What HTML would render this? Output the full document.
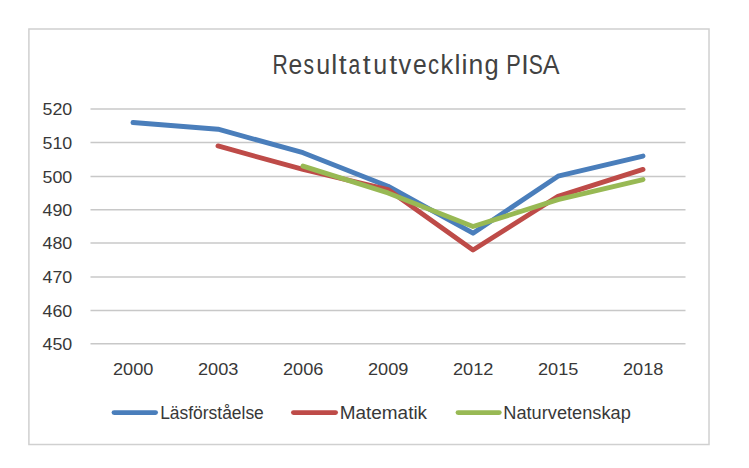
<!DOCTYPE html>
<html><head><meta charset="utf-8"><style>
html,body{margin:0;padding:0;background:#fff;overflow:hidden;}
svg{display:block;}
text{font-family:"Liberation Sans",sans-serif;}
</style></head><body>
<svg width="749" height="468" viewBox="0 0 749 468">
<rect x="0" y="0" width="749" height="468" fill="#fff"/>
<rect x="28.9" y="29" width="680.1" height="415.5" fill="#fff" stroke="#d0d0d0" stroke-width="1.5"/>
<g font-size="27" fill="#424242">
<text x="272.58" y="74" textLength="15.23" lengthAdjust="spacingAndGlyphs">R</text><text x="288.60" y="74" textLength="13.72" lengthAdjust="spacingAndGlyphs">e</text><text x="303.51" y="74" textLength="10.53" lengthAdjust="spacingAndGlyphs">s</text><text x="316.23" y="74" textLength="13.96" lengthAdjust="spacingAndGlyphs">u</text><text x="331.35" y="74" textLength="6.00" lengthAdjust="spacingAndGlyphs">l</text><text x="338.66" y="74" textLength="7.88" lengthAdjust="spacingAndGlyphs">t</text><text x="348.42" y="74" textLength="11.71" lengthAdjust="spacingAndGlyphs">a</text><text x="362.71" y="74" textLength="7.88" lengthAdjust="spacingAndGlyphs">t</text><text x="373.23" y="74" textLength="13.96" lengthAdjust="spacingAndGlyphs">u</text><text x="389.31" y="74" textLength="7.88" lengthAdjust="spacingAndGlyphs">t</text><text x="398.51" y="74" textLength="12.69" lengthAdjust="spacingAndGlyphs">v</text><text x="412.90" y="74" textLength="13.72" lengthAdjust="spacingAndGlyphs">e</text><text x="428.00" y="74" textLength="11.08" lengthAdjust="spacingAndGlyphs">c</text><text x="440.51" y="74" textLength="12.69" lengthAdjust="spacingAndGlyphs">k</text><text x="454.55" y="74" textLength="6.00" lengthAdjust="spacingAndGlyphs">l</text><text x="461.55" y="74" textLength="6.00" lengthAdjust="spacingAndGlyphs">i</text><text x="468.43" y="74" textLength="14.75" lengthAdjust="spacingAndGlyphs">n</text><text x="484.56" y="74" textLength="14.15" lengthAdjust="spacingAndGlyphs">g</text><text x="506.13" y="74" textLength="14.51" lengthAdjust="spacingAndGlyphs">P</text><text x="521.30" y="74" textLength="7.50" lengthAdjust="spacingAndGlyphs">I</text><text x="528.63" y="74" textLength="14.05" lengthAdjust="spacingAndGlyphs">S</text><text x="542.81" y="74" textLength="16.80" lengthAdjust="spacingAndGlyphs">A</text>
</g>
<g stroke="#c8c8c8" stroke-width="1.6"><line x1="90.5" y1="109.00" x2="685.5" y2="109.00"/><line x1="90.5" y1="142.50" x2="685.5" y2="142.50"/><line x1="90.5" y1="176.50" x2="685.5" y2="176.50"/><line x1="90.5" y1="209.70" x2="685.5" y2="209.70"/><line x1="90.5" y1="243.00" x2="685.5" y2="243.00"/><line x1="90.5" y1="277.00" x2="685.5" y2="277.00"/><line x1="90.5" y1="310.50" x2="685.5" y2="310.50"/><line x1="90.5" y1="343.80" x2="685.5" y2="343.80"/></g>
<g font-size="17" fill="#383838"><text x="42.55" y="115.20" textLength="29.75" lengthAdjust="spacingAndGlyphs">520</text><text x="42.55" y="148.70" textLength="29.75" lengthAdjust="spacingAndGlyphs">510</text><text x="42.55" y="182.70" textLength="29.75" lengthAdjust="spacingAndGlyphs">500</text><text x="42.55" y="215.90" textLength="29.75" lengthAdjust="spacingAndGlyphs">490</text><text x="42.55" y="249.20" textLength="29.75" lengthAdjust="spacingAndGlyphs">480</text><text x="42.55" y="283.20" textLength="29.75" lengthAdjust="spacingAndGlyphs">470</text><text x="42.55" y="316.70" textLength="29.75" lengthAdjust="spacingAndGlyphs">460</text><text x="42.55" y="350.00" textLength="29.75" lengthAdjust="spacingAndGlyphs">450</text></g>
<g font-size="17" fill="#383838"><text x="113.00" y="375" textLength="40.4" lengthAdjust="spacingAndGlyphs">2000</text><text x="198.00" y="375" textLength="40.4" lengthAdjust="spacingAndGlyphs">2003</text><text x="283.00" y="375" textLength="40.4" lengthAdjust="spacingAndGlyphs">2006</text><text x="368.00" y="375" textLength="40.4" lengthAdjust="spacingAndGlyphs">2009</text><text x="453.00" y="375" textLength="40.4" lengthAdjust="spacingAndGlyphs">2012</text><text x="538.00" y="375" textLength="40.4" lengthAdjust="spacingAndGlyphs">2015</text><text x="623.00" y="375" textLength="40.4" lengthAdjust="spacingAndGlyphs">2018</text></g>
<g fill="none" stroke-width="4.9" stroke-linecap="round" stroke-linejoin="round">
<path d="M133.00 122.49 L218.00 129.20 L303.00 152.69 L388.00 186.24 L473.00 233.21 L558.00 176.17 L643.00 156.04" stroke="#4a7ebb"/>
<path d="M218.00 145.98 L303.00 169.46 L388.00 189.59 L473.00 249.99 L558.00 196.30 L643.00 169.46" stroke="#be4b48"/>
<path d="M303.00 166.11 L388.00 192.95 L473.00 226.50 L558.00 199.66 L643.00 179.53" stroke="#98b954"/>
<line x1="114.05" y1="412.6" x2="155.55" y2="412.6" stroke="#4a7ebb"/>
<line x1="293.45" y1="412.6" x2="335.55" y2="412.6" stroke="#be4b48"/>
<line x1="458.05" y1="412.6" x2="499.25" y2="412.6" stroke="#98b954"/>
</g>
<g font-size="17.5" fill="#383838">
<text x="160.15" y="419" textLength="103.65" lengthAdjust="spacingAndGlyphs">Läsförståelse</text>
<text x="339.7" y="419" textLength="87.4" lengthAdjust="spacingAndGlyphs">Matematik</text>
<text x="503.3" y="419" textLength="127.5" lengthAdjust="spacingAndGlyphs">Naturvetenskap</text>
</g>
</svg>
</body></html>
